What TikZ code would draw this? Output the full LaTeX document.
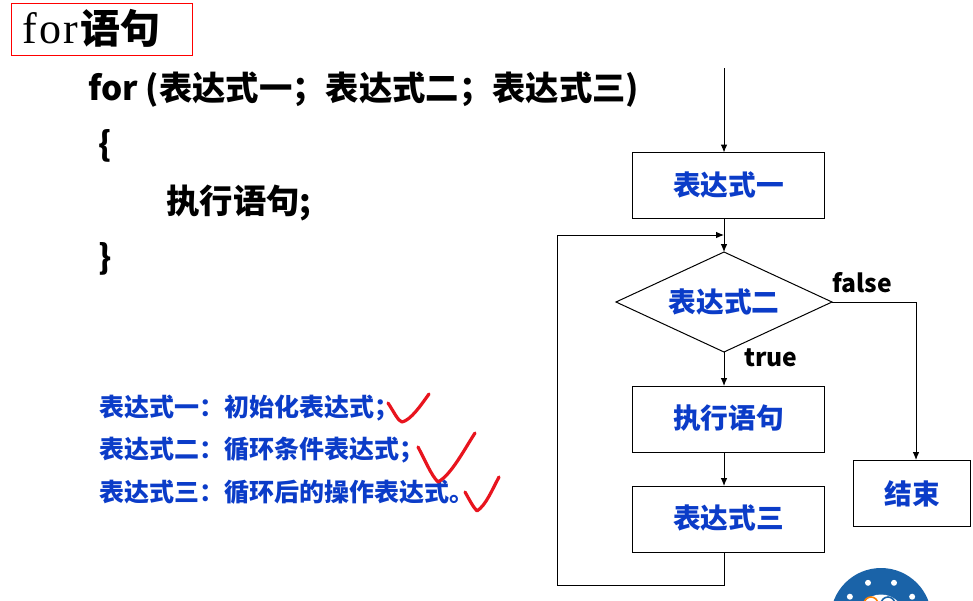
\documentclass[tikz,border=0pt]{standalone}
\usepackage{fontspec}
\usepackage{xcolor}
\usepackage{tikz}
\usetikzlibrary{arrows.meta,positioning,shapes.geometric,calc}
\setmainfont{Noto Sans CJK SC}
\newfontfamily\titlefont[LetterSpace=5]{Liberation Serif}
\definecolor{lblblue}{HTML}{0B3CC8}
\definecolor{chkred}{HTML}{E8141E}
\definecolor{ringblue}{HTML}{1A63A8}

\begin{document}
\begin{tikzpicture}[
  x=0.75pt, y=-0.75pt,
  line width=0.75pt,
  blk/.style={draw, inner sep=0pt, outer sep=0pt, minimum width=144pt, minimum height=49.5pt,
              font=\fontsize{20.8}{24}\selectfont\bfseries, text=lblblue},
  cond/.style={draw, diamond, aspect=2.16, inner sep=0pt, outer sep=0pt, minimum width=162pt, minimum height=75pt,
              font=\fontsize{20.8}{24}\selectfont\bfseries, text=lblblue},
  code/.style={anchor=west, inner sep=0pt, font=\fontsize{25}{30}\selectfont\bfseries},
  note/.style={anchor=west, inner sep=0pt, font=\fontsize{18.75}{22}\selectfont\bfseries, text=lblblue},
  tag/.style={inner sep=0pt, font=\fontsize{18.5}{22}\selectfont\bfseries},
  arrow/.style={-{Latex[length=6pt,width=5pt]}},
  tick/.style={draw=chkred, line width=2.4pt, line cap=round, line join=round}
]
\useasboundingbox (0,0) rectangle (973,600);

% Title
\node[draw=red, inner sep=0pt, outer sep=0pt, minimum width=135.75pt, minimum height=39pt] (titlebox) at (101.5,29) {};
\node[anchor=west, inner sep=0pt, font=\fontsize{30}{36}\selectfont] (title) at (22,28)
  {{\titlefont\fontsize{33}{36}\selectfont for}\textbf{语句}};

% Code
\node[code] (head) at (88,90) {for (表达式一；表达式二；表达式三)};
\node[code] (open) at (98,146) {\{};
\node[code] (body) at (166,203) {执行语句;};
\node[code] (close) at (98,259) {\}};

% Notes
\node[note] (noteone) at (99,408) {表达式一：初始化表达式；};
\node[note] (notetwo) at (99,450) {表达式二：循环条件表达式；};
\node[note] (notethree) at (99,492) {表达式三：循环后的操作表达式。};

% Ticks
\draw[tick] (388,403) .. controls (394,412) and (398,421) .. (402,422)
  .. controls (411,420) and (421,405) .. (429,394);
\draw[tick] (418,447) .. controls (425,460) and (431,475) .. (438,482)
  .. controls (451,475) and (464,450) .. (475,433);
\draw[tick] (465,492) .. controls (469,499) and (473,507) .. (477,511)
  .. controls (486,505) and (492,490) .. (499,477);

% Flow chart
\coordinate (entry) at (724,68);
\node[blk, text depth=3pt] (exprone) at (728.5,185.5) {表达式一};
\node[cond] (exprtwo) at (724,302) {表达式二};
\node[blk, text depth=3pt] (stmt) at (728.5,419) {执行语句};
\node[blk, text depth=3pt] (exprthree) at (728.5,519) {表达式三};
\node[blk, minimum width=88pt] (finish) at (912,493.5) {结束};
\node[tag] (truelbl) at (771,358) {true};
\node[tag] (falselbl) at (862,283) {false};
\coordinate (joinpt) at (724,235);
\coordinate (looplow) at (557,585);
\coordinate (falsetop) at (916,460);

\draw[arrow] (entry) -- (entry |- exprone.north);
\draw[arrow] (joinpt |- exprone.south) -- (exprtwo.north);
\draw[arrow] (exprtwo.south) -- (exprtwo.south |- stmt.north);
\draw[arrow] (exprtwo.south |- stmt.south) -- (exprtwo.south |- exprthree.north);
\draw[arrow] (exprtwo.east) -| (falsetop);
\draw[arrow] (exprtwo.south |- exprthree.south) |- (looplow) |- (joinpt);

% Logo
\begin{scope}
  \clip (800,560) rectangle (973,600);
  \fill[ringblue] (881,618.5) circle[radius=50.5];
  \fill[white] (881,618.5) circle[radius=24];
  \draw[orange, line width=1.2pt] (871,604) circle[radius=7];
  \draw[ringblue, line width=1.2pt] (888,604) circle[radius=7];
  \foreach \ang in {-145,-110,-70,-35}
    \fill[white] ($(881,618.5)+(\ang:38)$) circle[radius=3];
\end{scope}
\end{tikzpicture}
\end{document}
